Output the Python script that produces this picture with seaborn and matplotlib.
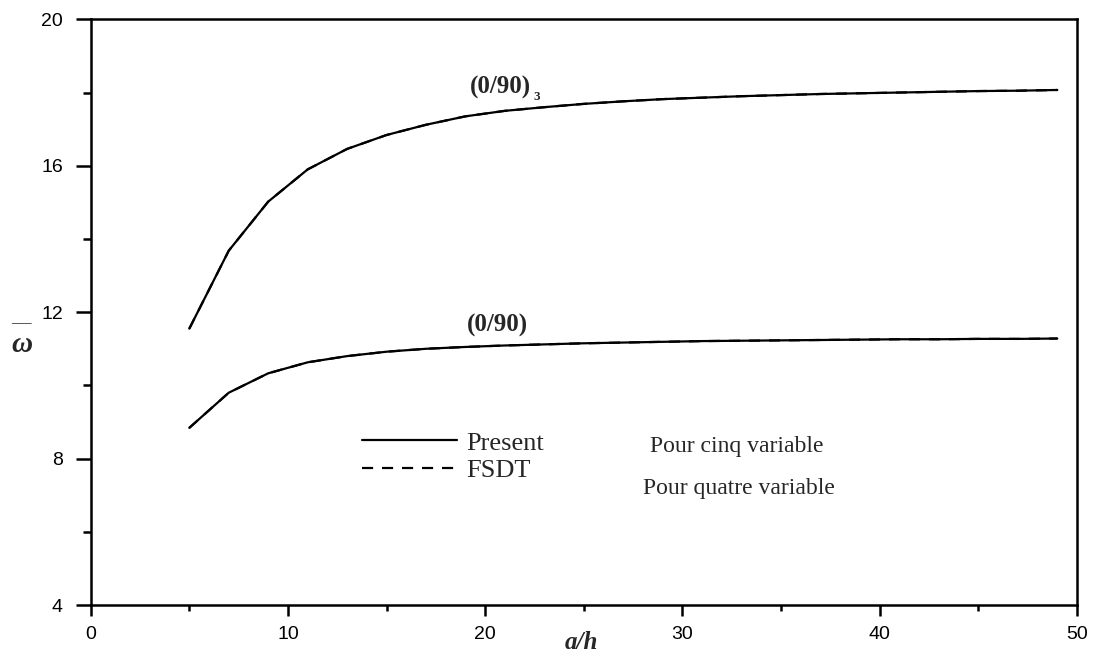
import matplotlib
matplotlib.use("Agg")
import matplotlib.pyplot as plt
from matplotlib.lines import Line2D
from matplotlib.ticker import MultipleLocator
import pandas as pd
import seaborn as sns

# Side-to-thickness ratio a/h
ratio = [5, 7, 9, 11, 13, 15, 17, 19, 21, 23, 25, 27, 29, 31, 33, 35, 37, 39, 41, 43, 45, 47, 49]

# Non-dimensional frequency, antisymmetric cross-ply (0/90)_3
freq_0903_present = [11.55, 13.68, 15.02, 15.90, 16.46, 16.84, 17.12, 17.35, 17.50, 17.60, 17.69, 17.76,
                     17.82, 17.86, 17.90, 17.93, 17.96, 17.98, 18.00, 18.02, 18.04, 18.05, 18.07]
freq_0903_fsdt = [11.55, 13.68, 15.02, 15.90, 16.46, 16.84, 17.12, 17.35, 17.50, 17.60, 17.69, 17.76,
                  17.82, 17.86, 17.90, 17.93, 17.96, 17.98, 18.00, 18.02, 18.04, 18.05, 18.07]

# Non-dimensional frequency, cross-ply (0/90)
freq_090_present = [8.84, 9.80, 10.33, 10.63, 10.80, 10.92, 11.00, 11.05, 11.09, 11.12, 11.15, 11.17,
                    11.19, 11.21, 11.22, 11.23, 11.24, 11.25, 11.26, 11.26, 11.27, 11.27, 11.28]
freq_090_fsdt = [8.84, 9.80, 10.33, 10.63, 10.80, 10.92, 11.00, 11.05, 11.09, 11.12, 11.15, 11.17,
                 11.19, 11.21, 11.22, 11.23, 11.24, 11.25, 11.26, 11.26, 11.27, 11.27, 11.28]

x_ticks = [0, 10, 20, 30, 40, 50]
y_ticks = [4, 8, 12, 16, 20]

frames = []
for lam, theory, vals in [("(0/90)3", "FSDT", freq_0903_fsdt),
                          ("(0/90)", "FSDT", freq_090_fsdt),
                          ("(0/90)3", "Present", freq_0903_present),
                          ("(0/90)", "Present", freq_090_present)]:
    frames.append(pd.DataFrame({"a/h": ratio, "w": vals, "lam": lam, "theory": theory,
                                "curve": lam + theory}))
df = pd.concat(frames, ignore_index=True)

sns.set_theme(style="ticks")
plt.rcParams["font.family"] = ["Liberation Sans", "DejaVu Sans"]
serif = ["Liberation Serif", "DejaVu Serif"]

fig = plt.figure(figsize=(10.95, 6.55), dpi=100)
ax = fig.add_axes([0.0828, 0.0763, 0.9008, 0.8942])

sns.lineplot(data=df, x="a/h", y="w", units="curve", style="theory", estimator=None,
             dashes={"Present": "", "FSDT": (5, 4)}, style_order=["Present", "FSDT"],
             color="black", linewidth=1.6, ax=ax, legend=False, sort=False)

ax.set_xlim(0, 50)
ax.set_ylim(4, 20)
ax.set_xticks(x_ticks)
ax.set_yticks(y_ticks)
ax.xaxis.set_minor_locator(MultipleLocator(5))
ax.yaxis.set_minor_locator(MultipleLocator(2))
ax.tick_params(axis="both", which="both", direction="out", width=1.8, colors="black",
               labelsize=14)
ax.tick_params(axis="x", which="major", length=8, pad=7)
ax.tick_params(axis="x", which="minor", length=4)
ax.tick_params(axis="y", which="major", length=11, pad=9)
ax.tick_params(axis="y", which="minor", length=6)
for s in ax.spines.values():
    s.set_linewidth(1.8)
    s.set_color("black")
    s.set_visible(True)
ax.set_facecolor("white")

ax.set_xlabel("a/h", family=serif, fontsize=18, fontweight="bold", style="italic",
              va="center")
ax.xaxis.set_label_coords(0.497, -0.064)
ax.set_ylabel("")

# Overlined omega on the vertical axis
fig.text(0.020, 0.474, "ω", family=serif, fontsize=21, fontweight="bold", style="italic",
         ha="center", va="center")
fig.text(0.0195, 0.5055, "—", family=serif, fontsize=14, ha="center", va="center")

# Laminate labels
t_top = ax.text(20.75, 18.15, "(0/90)", family=serif, fontsize=18, fontweight="bold",
                ha="center", va="center")
ax.annotate("3", xy=(1, 0), xycoords=t_top, xytext=(2, -3), textcoords="offset points",
            family=serif, fontsize=9.5, fontweight="bold", ha="left", va="bottom")
ax.text(20.64, 11.65, "(0/90)", family=serif, fontsize=18, fontweight="bold",
        ha="center", va="center")

handles = [Line2D([], [], color="black", lw=1.6, ls="-"),
           Line2D([], [], color="black", lw=1.6, ls=(0, (5, 4)))]
ax.legend(handles, ["Present", "FSDT"], loc="center left",
          bbox_to_anchor=(0.2751, 0.2535), frameon=False, borderpad=0, borderaxespad=0,
          handlelength=3.6, handletextpad=0.35, labelspacing=0.15,
          prop={"family": serif, "size": 19})

ax.text(28.35, 8.32, "Pour cinq variable", family=serif, fontsize=17, ha="left", va="center")
ax.text(27.99, 7.19, "Pour quatre variable", family=serif, fontsize=17, ha="left", va="center")

fig.savefig("out.png", dpi=100, facecolor="white")
